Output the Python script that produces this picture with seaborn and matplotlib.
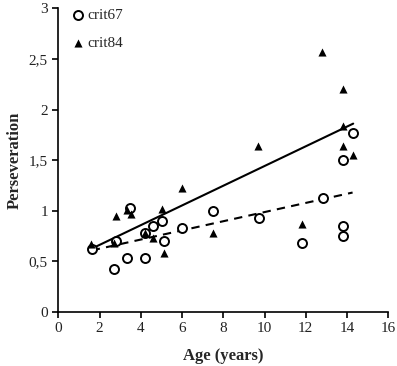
import matplotlib
matplotlib.use("Agg")
import matplotlib.pyplot as plt
import matplotlib.ticker as mticker
import seaborn as sns
import numpy as np

# crit67 (open circles)
age67 = [1.62, 2.80, 2.71, 3.48, 3.31, 4.22, 4.22, 4.61, 5.01, 5.11, 6.0, 7.5,
         9.71, 11.83, 12.82, 13.79, 13.79, 13.79, 14.27]
pers67 = [0.62, 0.70, 0.425, 1.03, 0.53, 0.53, 0.78, 0.85, 0.90, 0.70, 0.83, 1.0,
          0.93, 0.68, 1.13, 0.85, 0.75, 1.50, 1.77]

# crit84 (filled triangles)
age84 = [1.59, 2.71, 2.80, 3.31, 3.51, 4.22, 4.61, 5.01, 5.11, 6.0, 7.5,
         9.70, 11.83, 12.8, 13.79, 13.79, 13.79, 14.3]
pers84 = [0.67, 0.68, 0.95, 1.01, 0.97, 0.78, 0.73, 1.02, 0.58, 1.22, 0.78,
          1.64, 0.87, 2.57, 2.20, 1.84, 1.64, 1.55]

x_ticks = [0, 2, 4, 6, 8, 10, 12, 14, 16]
y_ticks = [0, 0.5, 1, 1.5, 2, 2.5, 3]

sns.set_style("ticks")
plt.rcParams['font.family'] = ['Liberation Serif', 'DejaVu Serif']

fig = plt.figure(figsize=(3.97, 3.66), dpi=100)
ax = fig.add_axes([0.147, 0.148, 0.831, 0.829])

# trend lines
sns.regplot(x=age84, y=pers84, ci=None, scatter=False, ax=ax,
            line_kws={'color': 'black', 'linewidth': 1.5})
sns.regplot(x=age67, y=pers67, ci=None, scatter=False, ax=ax,
            line_kws={'color': 'black', 'linewidth': 1.5, 'linestyle': (0, (4, 3))})

sns.scatterplot(x=age67, y=pers67, ax=ax, marker='o', s=42, facecolor='white',
                edgecolor='black', linewidth=1.4, label='crit67', zorder=3)
sns.scatterplot(x=age84, y=pers84, ax=ax, marker='^', s=34, color='black',
                edgecolor='black', linewidth=0, label='crit84', zorder=4)

ax.set_xlim(0, 16)
ax.set_ylim(0, 3)
ax.set_xticks(x_ticks)
ax.set_yticks(y_ticks)
ax.yaxis.set_major_formatter(mticker.FuncFormatter(lambda v, p: f"{v:g}".replace('.', ',')))
ax.tick_params(axis='both', labelsize=11, length=4, width=1.2, color='black', labelcolor='#222222')
for s in ['left', 'bottom']:
    ax.spines[s].set_linewidth(1.2)
    ax.spines[s].set_color('black')
sns.despine(ax=ax)

ax.set_xlabel('Age (years)', fontsize=12, fontweight='bold', labelpad=9)
ax.set_ylabel('Perseveration', fontsize=12, fontweight='bold', labelpad=4)

leg = ax.legend(loc='upper left', frameon=False, fontsize=11, handletextpad=0.1,
                handlelength=1.0, borderaxespad=0.0, labelspacing=0.9,
                bbox_to_anchor=(0.018, 1.02))

fig.savefig('out.png', dpi=100)
